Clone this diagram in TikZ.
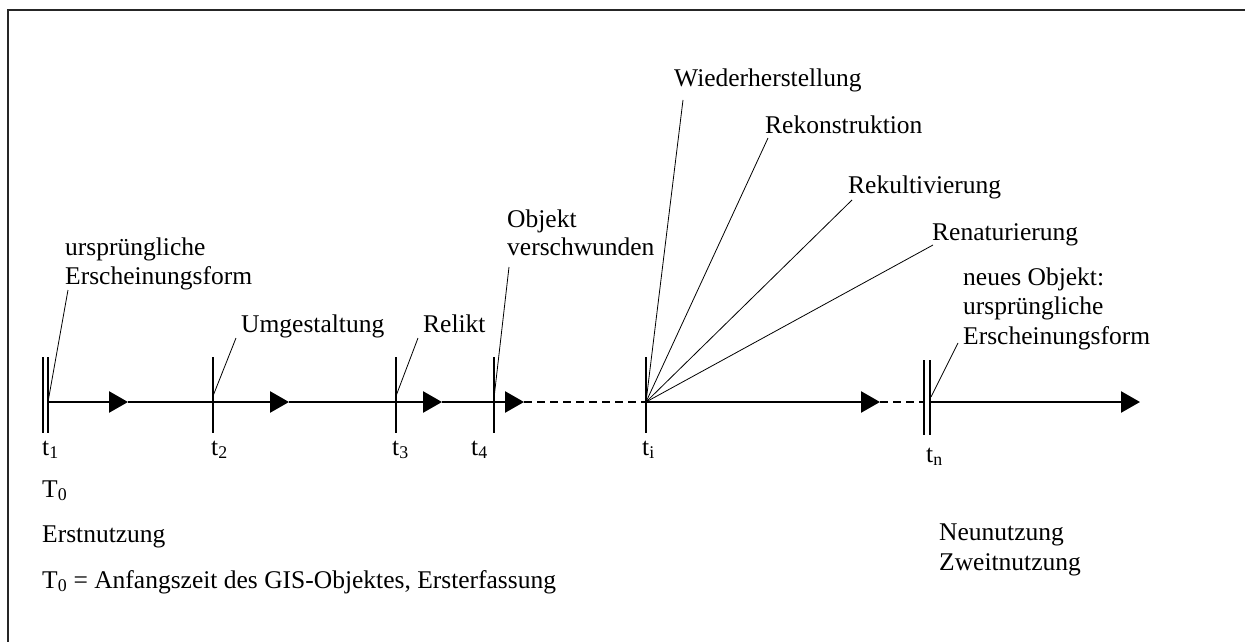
\documentclass[tikz,border=0pt]{standalone}
\usepackage{fontspec}
\setmainfont{Liberation Serif}
\usetikzlibrary{arrows.meta,calc}

\begin{document}
\begin{tikzpicture}[x=1pt,y=-1pt,
  lbl/.style={anchor=base west,inner sep=0pt,font=\fontsize{25.5}{30}\selectfont},
  axis/.style={line width=2.6pt},
  head/.style={-{Triangle[length=19pt,width=21pt]}},
  gap/.style={line width=1.4pt,dash pattern=on 8pt off 5pt},
  tick/.style={line width=1.8pt},
  leader/.style={line width=0.8pt}]
\useasboundingbox (0,0) rectangle (1245,642);

% open frame: top and left edges only
\draw[line width=2pt,black!85] (8,642) -- (8,10) -- (1245,10);

% time points on the axis
\coordinate (p1) at (48,402);
\coordinate (p2) at (213,402);
\coordinate (p3) at (396,402);
\coordinate (p4) at (494,402);
\coordinate (pi) at (646,402);
\coordinate (pn) at (930,402);
\coordinate (pn0) at (925,402);
% arrow tips along the axis
\coordinate (a1) at (128,402);
\coordinate (a2) at (289,402);
\coordinate (a3) at (442,402);
\coordinate (a4) at (524,402);
\coordinate (a5) at (880,402);
\coordinate (a6) at (1140,402);

% ticks
\draw[tick] (43,357) -- (43,433);
\draw[tick] (48,357) -- (48,433);
\draw[tick] (213,357) -- (213,433);
\draw[tick] (396,357) -- (396,433);
\draw[tick] (494,357) -- (494,433);
\draw[tick] (646,357) -- (646,433);
\draw[tick] (924,360) -- (924,435);
\draw[tick] (930,360) -- (930,435);

% axis segments
\draw[axis,head] (p1) -- (a1);
\draw[axis] (a1) -- (p2);
\draw[axis,head] (p2) -- (a2);
\draw[axis] (a2) -- (p3);
\draw[axis,head] (p3) -- (a3);
\draw[axis] (a3) -- (p4);
\draw[axis,head] (p4) -- (a4);
\draw[gap] (a4) -- (pi);
\draw[axis,head] (pi) -- (a5);
\draw[gap] (a5) -- (pn0);
\draw[axis,head] (pn) -- (a6);

% labels above the axis, one node per printed line
\node[lbl] (u1a) at (65,255) {ursprüngliche};
\node[lbl] (u1b) at (65,284) {Erscheinungsform};
\node[lbl] (umg) at (241,332) {Umgestaltung};
\node[lbl] (rel) at (423,332) {Relikt};
\node[lbl] (vera) at (507,227) {Objekt};
\node[lbl] (verb) at (507,255) {verschwunden};
\node[lbl] (wie) at (674,87) {Wiederherstellung};
\node[lbl] (rek) at (765,133) {Rekonstruktion};
\node[lbl] (rkl) at (848,193) {Rekultivierung};
\node[lbl] (ren) at (932,240) {Renaturierung};
\node[lbl] (neua) at (963,285) {neues Objekt:};
\node[lbl] (neub) at (963,314) {ursprüngliche};
\node[lbl] (neuc) at (963,344) {Erscheinungsform};

% leader ends
\coordinate (l1) at (68,290);
\coordinate (l2) at (236,338);
\coordinate (l3) at (418,338);
\coordinate (l4) at (509,267);
\coordinate (lw) at (683,100);
\coordinate (lk) at (768,138);
\coordinate (lt) at (852,200);
\coordinate (lr) at (933,245);
\coordinate (ln) at (958,343);

\draw[leader] (p1) -- (l1);
\draw[leader] ($(p2)+(0,-6)$) -- (l2);
\draw[leader] ($(p3)+(0,-6)$) -- (l3);
\draw[leader] ($(p4)+(0,-4)$) -- (l4);
\draw[leader] (pi) -- (lw);
\draw[leader] (pi) -- (lk);
\draw[leader] (pi) -- (lt);
\draw[leader] (pi) -- (lr);
\draw[leader] ($(pn)+(1,-5)$) -- (ln);

% labels below the axis
\node[lbl] (t1) at (42,455) {t\textsubscript{1}};
\node[lbl] (t2) at (211,455) {t\textsubscript{2}};
\node[lbl] (t3) at (392,455) {t\textsubscript{3}};
\node[lbl] (t4) at (471,455) {t\textsubscript{4}};
\node[lbl] (ti) at (642,455) {t\textsubscript{i}};
\node[lbl] (tn) at (926,462) {t\textsubscript{n}};

\node[lbl] (T0) at (42,497) {T\textsubscript{0}};
\node[lbl] (erst) at (42,542) {Erstnutzung};
\node[lbl] (def) at (42,588) {T\textsubscript{0} = Anfangszeit des GIS-Objektes, Ersterfassung};
\node[lbl] (nna) at (939,540) {Neunutzung};
\node[lbl] (nnb) at (939,570) {Zweitnutzung};
\end{tikzpicture}
\end{document}
